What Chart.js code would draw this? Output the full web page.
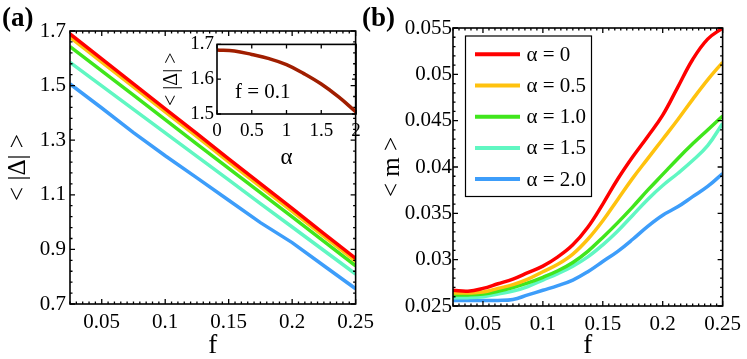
<!DOCTYPE html>
<html><head><meta charset="utf-8">
<script src="https://cdn.jsdelivr.net/npm/chart.js@4.4.1/dist/chart.umd.min.js"></script>
<style>
html,body{margin:0;padding:0;background:#fff;overflow:hidden;}
body{width:747px;height:359px;position:relative;font-family:'Liberation Serif';color:#000;}
canvas{position:absolute;}
#ca{left:0;top:0;}
#cb{left:380px;top:0;}
#ci{left:150px;top:30px;}
.lbl{position:absolute;font-family:'Liberation Serif';font-weight:bold;font-size:27px;line-height:27px;white-space:nowrap;}
#ft{position:absolute;left:235px;top:81px;font-family:'Liberation Serif';font-size:21px;line-height:21px;white-space:nowrap;}
</style></head><body>
<canvas id="ca" width="380" height="359"></canvas>
<canvas id="cb" width="367" height="359"></canvas>
<canvas id="ci" width="220" height="145"></canvas>
<div class="lbl" style="left:2px;top:4px">(a)</div>
<div class="lbl" style="left:362px;top:4px">(b)</div>
<div id="ft">f = 0.1</div>
<script>
// ---------- data ----------
const seriesLabels = ['α = 0', 'α = 0.5', 'α = 1.0', 'α = 1.5', 'α = 2.0'];
const seriesColors = ['#ff0000', '#ffc20e', '#40e61c', '#60f7c2', '#3d9dfa'];

// panel (a): <|Δ|> vs f
const fA = [0.025, 0.05, 0.075, 0.1, 0.125, 0.15, 0.175, 0.2, 0.225, 0.25];
const deltaA0  = [1.689, 1.598, 1.506, 1.415, 1.324, 1.232, 1.141, 1.050, 0.958, 0.867];
const deltaA05 = [1.677, 1.586, 1.495, 1.404, 1.313, 1.221, 1.130, 1.039, 0.948, 0.857];
const deltaA10 = [1.643, 1.554, 1.465, 1.375, 1.286, 1.197, 1.108, 1.019, 0.929, 0.840];
const deltaA15 = [1.585, 1.499, 1.413, 1.327, 1.241, 1.155, 1.068, 0.982, 0.896, 0.810];
const deltaA20 = [1.506, 1.418, 1.328, 1.243, 1.162, 1.080, 0.998, 0.925, 0.840, 0.756];
const xTicksA = [0.05, 0.1, 0.15, 0.2, 0.25];
const yTicksA = [0.7, 0.9, 1.1, 1.3, 1.5, 1.7];

// inset: <|Δ|> vs α at f = 0.1
const alphaI = [0, 0.25, 0.5, 0.75, 1, 1.25, 1.5, 1.75, 2];
const deltaI = [1.684, 1.681, 1.671, 1.659, 1.642, 1.616, 1.586, 1.549, 1.506];
const xTicksI = [0, 0.5, 1, 1.5, 2];
const yTicksI = [1.5, 1.6, 1.7];

// panel (b): <m> vs f
const fB = [0.025, 0.0375, 0.05, 0.0625, 0.075, 0.0875, 0.1, 0.1125, 0.125, 0.1375,
            0.15, 0.1625, 0.175, 0.1875, 0.2, 0.2125, 0.225, 0.2375, 0.25];
const mB0  = [0.0267, 0.0266, 0.0269, 0.0274, 0.0279, 0.0286, 0.0293, 0.0303, 0.0316, 0.0335,
              0.0360, 0.0387, 0.0411, 0.0433, 0.0456, 0.0486, 0.0516, 0.0538, 0.0550];
const mB05 = [0.0264, 0.0264, 0.0265, 0.0269, 0.0273, 0.0279, 0.0287, 0.0295, 0.0306, 0.0322,
              0.0342, 0.0365, 0.0388, 0.0409, 0.0430, 0.0451, 0.0473, 0.0494, 0.0513];
const mB10 = [0.0262, 0.0262, 0.0263, 0.0266, 0.0270, 0.0275, 0.0281, 0.0288, 0.0297, 0.0309,
              0.0324, 0.0340, 0.0357, 0.0375, 0.0392, 0.0409, 0.0425, 0.0440, 0.0455];
const mB15 = [0.0259, 0.0259, 0.0260, 0.0263, 0.0266, 0.0271, 0.0278, 0.0285, 0.0293, 0.0303,
              0.0316, 0.0331, 0.0348, 0.0365, 0.0380, 0.0393, 0.0407, 0.0423, 0.0447];
const mB20 = [0.0256, 0.0256, 0.0256, 0.0256, 0.0257, 0.0262, 0.0267, 0.0272, 0.0278, 0.0287,
              0.0298, 0.0309, 0.0322, 0.0336, 0.0348, 0.0357, 0.0368, 0.0379, 0.0393];
const xTicksB = [0.05, 0.1, 0.15, 0.2, 0.25];
const yTicksB = [0.025, 0.03, 0.035, 0.04, 0.045, 0.05, 0.055];

// ---------- helpers ----------
const FAM = "'Liberation Serif'";
Chart.defaults.font.family = FAM;
Chart.defaults.color = '#000';
const fmt = v => String(+(+v).toFixed(4));
const pts = (xs, ys) => xs.map((x, i) => ({x: x, y: ys[i]}));
const setTicks = arr => (s => { s.ticks = arr.map(v => ({value: v})); });

const frame = {
  id: 'frame',
  afterDraw(chart, args, o) {
    const {ctx, chartArea: a, scales} = chart;
    const xs = scales.x, ys = scales.y;
    ctx.save();
    ctx.strokeStyle = '#000';
    ctx.lineWidth = 1.3;
    ctx.beginPath();
    const xt = (v, len) => { const p = xs.getPixelForValue(v); ctx.moveTo(p, a.bottom); ctx.lineTo(p, a.bottom - len); ctx.moveTo(p, a.top); ctx.lineTo(p, a.top + len); };
    const yt = (v, len) => { const p = ys.getPixelForValue(v); ctx.moveTo(a.left, p); ctx.lineTo(a.left + len, p); ctx.moveTo(a.right, p); ctx.lineTo(a.right - len, p); };
    const minor = (s, step, fn) => { const n = Math.round((s.max - s.min) / step); for (let i = 0; i <= n; i++) fn(s.min + i * step, o.minLen); };
    if (o.xMinor) minor(xs, o.xMinor, xt);
    if (o.yMinor) minor(ys, o.yMinor, yt);
    xs.ticks.forEach(t => xt(t.value, o.majLen));
    ys.ticks.forEach(t => yt(t.value, o.majLen));
    ctx.stroke();
    ctx.lineWidth = 1.6;
    ctx.strokeRect(a.left, a.top, a.right - a.left, a.bottom - a.top);
    ctx.restore();
  }
};

const legendBox = {
  id: 'legendBox',
  afterDraw(chart, args, o) {
    if (!o || !o.show) return;
    const ctx = chart.ctx;
    ctx.save();
    ctx.fillStyle = '#fff';
    ctx.fillRect(o.x, o.y, o.w, o.h);
    ctx.lineWidth = 1.2;
    ctx.strokeStyle = '#000';
    ctx.strokeRect(o.x, o.y, o.w, o.h);
    ctx.font = '21px ' + FAM;
    ctx.textBaseline = 'middle';
    chart.data.datasets.forEach((ds, i) => {
      const yy = o.y0 + i * o.dy;
      ctx.strokeStyle = ds.borderColor;
      ctx.lineWidth = 4;
      ctx.beginPath(); ctx.moveTo(o.lx0, yy); ctx.lineTo(o.lx1, yy); ctx.stroke();
      ctx.fillStyle = '#000';
      ctx.fillText(ds.label, o.tx, yy + 1);
    });
    ctx.restore();
  }
};

function makeDatasets(xs, arrs, tension) {
  return arrs.map((arr, i) => ({
    label: seriesLabels[i], data: pts(xs, arr), borderColor: seriesColors[i],
    borderWidth: 3.5, pointRadius: 0, fill: false, tension: tension
  }));
}

function axes(cfg) {
  return {
    x: {
      type: 'linear', min: cfg.xmin, max: cfg.xmax,
      afterBuildTicks: setTicks(cfg.xt),
      afterFit: s => { s.height = cfg.xh; },
      grid: {display: false, drawTicks: false}, border: {display: false},
      ticks: {padding: cfg.xpad, font: {family: FAM, size: cfg.tfs}, color: '#000', callback: fmt, maxRotation: 0, autoSkip: false},
      title: {display: true, text: cfg.xtitle, color: '#000', font: {family: FAM, size: cfg.xtfs, lineHeight: cfg.xtlh}, padding: cfg.xtpad}
    },
    y: {
      type: 'linear', min: cfg.ymin, max: cfg.ymax,
      afterBuildTicks: setTicks(cfg.yt),
      afterFit: s => { s.width = cfg.yw; },
      grid: {display: false, drawTicks: false}, border: {display: false},
      ticks: {padding: cfg.ypad, font: {family: FAM, size: cfg.tfs}, color: '#000', callback: fmt, autoSkip: false},
      title: {display: true, text: cfg.ytitle, color: '#000', font: {family: FAM, size: cfg.ytfs, lineHeight: cfg.ytlh}, padding: cfg.ytpad}
    }
  };
}

const common = {responsive: false, animation: false, devicePixelRatio: 1, events: []};

// ---------- panel (a) ----------
new Chart(document.getElementById('ca'), {
  type: 'line',
  data: {datasets: makeDatasets(fA, [deltaA0, deltaA05, deltaA10, deltaA15, deltaA20], 0)},
  options: Object.assign({}, common, {
    layout: {padding: {left: 0, right: 19, top: 31, bottom: 0}},
    scales: axes({xmin: 0.025, xmax: 0.25, xt: xTicksA, xh: 55, xpad: 6, tfs: 21, xtitle: 'f', xtfs: 27, xtlh: 1, xtpad: {top: 0, bottom: 0},
                  ymin: 0.7, ymax: 1.7, yt: yTicksA, yw: 70, ypad: 4, ytitle: '< |Δ| >', ytfs: 25, ytlh: 1.2, ytpad: {top: 3, bottom: 0}}),
    plugins: {legend: {display: false}, tooltip: {enabled: false},
              frame: {xMinor: 0.005, yMinor: 0.04, majLen: 5, minLen: 2.5}}
  }),
  plugins: [frame]
});

// ---------- inset ----------
new Chart(document.getElementById('ci'), {
  type: 'line',
  data: {datasets: [{label: 'f = 0.1', data: pts(alphaI, deltaI), borderColor: '#a01e00', borderWidth: 3.5, pointRadius: 0, fill: false, tension: 0.4}]},
  options: Object.assign({}, common, {
    layout: {padding: {left: 0, right: 14, top: 13, bottom: 0}},
    scales: axes({xmin: 0, xmax: 2, xt: xTicksI, xh: 61, xpad: 6, tfs: 19, xtitle: 'α', xtfs: 23, xtlh: 1.2, xtpad: {top: 0, bottom: 3},
                  ymin: 1.5, ymax: 1.7, yt: yTicksI, yw: 67, ypad: 3, ytitle: '< |Δ| >', ytfs: 20, ytlh: 1.2, ytpad: {top: 10, bottom: 0}}),
    plugins: {legend: {display: false}, tooltip: {enabled: false},
              frame: {xMinor: 0, yMinor: 0, majLen: 4, minLen: 0}}
  }),
  plugins: [frame]
});

// ---------- panel (b) ----------
new Chart(document.getElementById('cb'), {
  type: 'line',
  data: {datasets: makeDatasets(fB, [mB0, mB05, mB10, mB15, mB20], 0.4)},
  options: Object.assign({}, common, {
    layout: {padding: {left: 0, right: 19, top: 28, bottom: 0}},
    scales: axes({xmin: 0.025, xmax: 0.25, xt: xTicksB, xh: 53, xpad: 6, tfs: 21, xtitle: 'f', xtfs: 27, xtlh: 1, xtpad: {top: 0, bottom: 0},
                  ymin: 0.025, ymax: 0.055, yt: yTicksB, yw: 73, ypad: 1, ytitle: '< m >', ytfs: 25, ytlh: 1, ytpad: {top: 0, bottom: 0}}),
    plugins: {legend: {display: false}, tooltip: {enabled: false},
              frame: {xMinor: 0.005, yMinor: 0.001, majLen: 5, minLen: 2.5},
              legendBox: {show: true, x: 85.5, y: 36, w: 126, h: 160.5, y0: 54.3, dy: 31.2, lx0: 95, lx1: 140, tx: 146.5}}
  }),
  plugins: [frame, legendBox]
});
</script>
</body></html>
